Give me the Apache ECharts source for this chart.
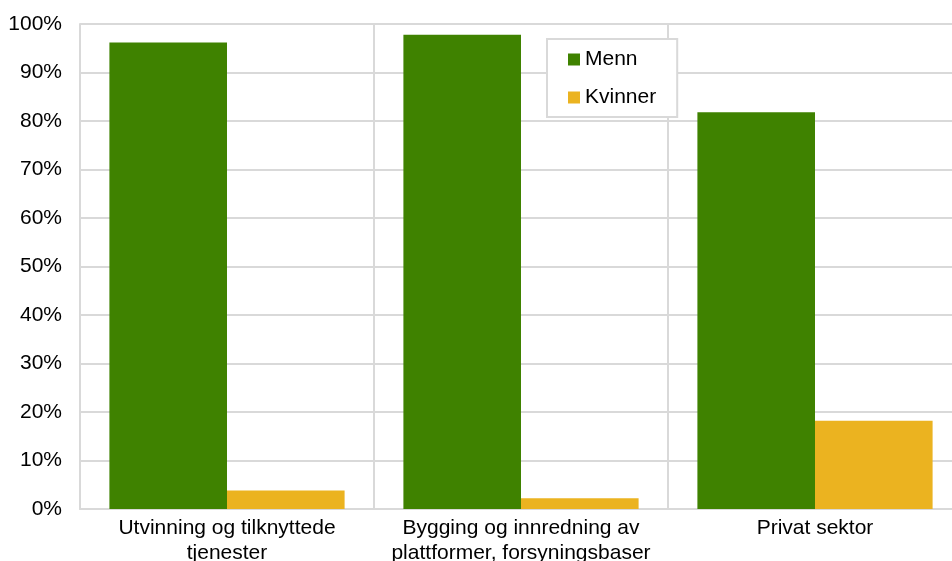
<!DOCTYPE html>
<html>
<head>
<meta charset="utf-8">
<script src="https://cdn.jsdelivr.net/npm/echarts@6/dist/echarts.min.js"></script>
<style>
  html, body { margin: 0; padding: 0; background: #fff; }
  #main { width: 952px; height: 561px; }
</style>
</head>
<body>
<div id="main"></div>
<script>
var categories = ['Utvinning og tilknyttede\ntjenester', 'Bygging og innredning av\nplattformer, forsyningsbaser', 'Privat sektor'];
var menn = [96.2, 97.8, 81.8];
var kvinner = [3.8, 2.2, 18.2];
var yTicks = [0, 10, 20, 30, 40, 50, 60, 70, 80, 90, 100];

var chart = echarts.init(document.getElementById('main'));
var option = {
  animation: false,
  backgroundColor: '#fff',
  textStyle: { fontFamily: 'Liberation Sans, Arial, sans-serif' },
  grid: { left: 80, right: -10, top: 24, bottom: 52, containLabel: false, outerBoundsMode: 'none' },
  legend: {
    orient: 'vertical',
    left: 547,
    top: 39,
    itemWidth: 12,
    itemHeight: 12,
    itemGap: 17,
    padding: [10, 21, 9, 21],
    backgroundColor: '#fff',
    borderColor: '#d9d9d9',
    borderWidth: 2,
    icon: 'rect',
    textStyle: { fontSize: 21, color: '#000' },
    data: ['Menn', 'Kvinner']
  },
  xAxis: {
    type: 'category',
    data: categories,
    axisTick: { show: false },
    axisLine: { lineStyle: { color: '#d9d9d9', width: 2 } },
    splitLine: { show: true, lineStyle: { color: '#d9d9d9', width: 2 } },
    axisLabel: { fontSize: 21, color: '#000', lineHeight: 25, margin: 7, interval: 0 }
  },
  yAxis: {
    type: 'value',
    min: 0,
    max: 100,
    interval: 10,
    axisLine: { show: true, lineStyle: { color: '#d9d9d9', width: 2 } },
    axisTick: { show: false },
    splitLine: { lineStyle: { color: '#d9d9d9', width: 2 } },
    axisLabel: {
      fontSize: 21, color: '#000', margin: 18,
      formatter: function (v) { return yTicks.indexOf(v) >= 0 ? v + '%' : ''; }
    }
  },
  series: [
    {
      name: 'Menn', type: 'bar', data: menn,
      barGap: '0%', barCategoryGap: '20%',
      itemStyle: { color: '#3f8200' }
    },
    {
      name: 'Kvinner', type: 'bar', data: kvinner,
      itemStyle: { color: '#ebb320' }
    }
  ]
};
chart.setOption(option);
</script>
</body>
</html>
